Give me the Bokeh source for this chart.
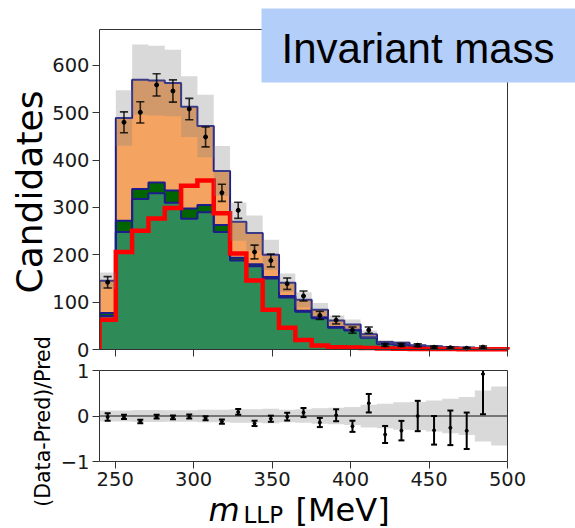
import numpy as np
from bokeh.plotting import figure
from bokeh.models import FixedTicker, ColumnDataSource, LinearAxis, Range1d
from bokeh.core.properties import value
from bokeh.embed import file_html
from bokeh.resources import INLINE

# ---------------- data ----------------
bin_edges = [240.0, 250.4, 260.8, 271.2, 281.6, 292.0, 302.4, 312.8, 323.2, 333.6,
             344.0, 354.4, 364.8, 375.2, 385.6, 396.0, 406.4, 416.8, 427.2, 437.6,
             448.0, 458.4, 468.8, 479.2, 489.6, 500.0]
seagreen_counts = [71, 248, 318, 330, 310, 276, 290, 248, 188, 176, 150, 110, 80, 66,
                   46, 40, 25, 12, 10, 6.5, 5.5, 4, 3.2, 2, 1.6]
darkgreen_counts = [6, 24, 21, 23, 26, 22, 15, 15, 6, 4, 3, 3, 2, 2, 1.5, 1.5, 1,
                    0.7, 0.5, 0.4, 0.3, 0.3, 0.2, 0.2, 0.1]
orange_counts = [68, 217, 231, 215, 227, 215, 167, 114, 76, 66, 47, 28, 23, 16, 13.5,
                 11.5, 6, 3.3, 3.5, 2.1, 1.2, 0.7, 0.6, 0.4, 0.3]
signal_counts = [63, 206, 251, 277, 299, 346, 357, 288, 203, 146, 84, 46, 20, 8.5, 5,
                 4, 3, 2, 1.5, 1.2, 1.0, 0.8, 0.6, 0.5, 0.4]
data_counts = [142, 480, 501, 559, 546, 508, 449, 331, 294, 206, 188, 139, 113, 72,
               62, 41, 41, 9.5, 9.5, 9, 4.8, 3.7, 2.7, 5, float("nan")]
data_errors = [12, 22, 22.5, 23.5, 23.5, 22.5, 21, 18, 17, 14.5, 13.5, 12, 10.5, 8.5,
               8, 6.5, 6.5, 3, 3, 3, 2.2, 1.9, 1.6, 2.3, float("nan")]
pred_rel_unc = [0.12, 0.12, 0.13, 0.13, 0.125, 0.125, 0.14, 0.14, 0.15, 0.15, 0.16,
                0.14, 0.15, 0.17, 0.18, 0.2, 0.25, 0.27, 0.3, 0.31, 0.34, 0.38, 0.42,
                0.56, 0.65]

x_ticks = [250, 300, 350, 400, 450, 500]
y_ticks_main = [0, 100, 200, 300, 400, 500, 600]
y_ticks_ratio = [-1, 0, 1]
x_min, x_max = 240, 500
y_main_max = 676
r_min, r_max = -1, 1

# ---------------- derived ----------------
edges = np.array(bin_edges)
lo, hi = edges[:-1], edges[1:]
ctr = 0.5 * (lo + hi)
S = np.array(seagreen_counts, float)
D = np.array(darkgreen_counts, float)
O = np.array(orange_counts, float)
c1 = S
c2 = S + D
tot = S + D + O
sig = np.array(signal_counts, float)
N = np.array(data_counts, float)
Ne = np.array(data_errors, float)
rel = np.array(pred_rel_unc, float)
ratio = N / tot - 1.0
ratio_err = Ne / tot


def ext(v):   # per-bin values -> per-edge values for step areas ("after" mode)
    v = np.asarray(v, float)
    return np.append(v, v[-1])


def step_xy(vals):
    xs, ys = [edges[0]], [0.0]
    for a, b, v in zip(lo, hi, vals):
        xs += [a, b]
        ys += [v, v]
    xs.append(edges[-1])
    ys.append(0.0)
    return xs, ys


FONT = "DejaVu Sans"
SPINE = "#333333"

# ---------------- page geometry (pixels) ----------------
W, H = 575, 528
FR_L, FR_R = 99, 507          # plot boxes left/right on the page
MAIN_T, MAIN_B = 29, 349      # main panel top/bottom
RAT_T, RAT_B = 370, 461       # ratio panel top/bottom
px_per_x = (FR_R - FR_L) / (x_max - x_min)
px_per_y = (MAIN_B - MAIN_T) / y_main_max
px_per_r = (RAT_B - RAT_T) / (r_max - r_min)


def xd(px):   # page x -> data x
    return x_min + (px - FR_L) / px_per_x


def yd(py):   # page y -> main-panel data y
    return (MAIN_B - py) / px_per_y


def rd(py):   # page y -> ratio-panel data y
    return r_min + (RAT_B - py) / px_per_r


p = figure(width=W, height=H, x_range=(xd(0), xd(W)), y_range=(yd(H), yd(0)),
           x_axis_type=None, y_axis_type=None, min_border=0,
           output_backend="svg", toolbar_location=None,
           background_fill_color="white", border_fill_color="white",
           outline_line_color=None)
p.extra_y_ranges = {"ratio": Range1d(rd(H), rd(0))}


def style_axis(ax):
    ax.axis_line_color = SPINE
    ax.major_tick_line_color = SPINE
    ax.major_tick_out = 7
    ax.major_tick_in = 0
    ax.minor_tick_out = 0
    ax.minor_tick_in = 0
    ax.major_label_text_font = FONT
    ax.major_label_text_font_size = "19.5px"
    ax.major_label_text_color = "#1a1a1a"
    ax.major_label_standoff = 3


# axes (all pinned to the panel edges)
ax_my = LinearAxis(ticker=FixedTicker(ticks=y_ticks_main), bounds=(0, y_main_max),
                   fixed_location=x_min)
ax_mx = LinearAxis(ticker=FixedTicker(ticks=x_ticks), bounds=(x_min, x_max),
                   fixed_location=0)
ax_ry = LinearAxis(ticker=FixedTicker(ticks=y_ticks_ratio), bounds=(r_min, r_max),
                   fixed_location=x_min, y_range_name="ratio")
ax_rx = LinearAxis(ticker=FixedTicker(ticks=x_ticks), bounds=(x_min, x_max),
                   fixed_location=r_min, y_range_name="ratio")
for ax in (ax_my, ax_mx, ax_ry, ax_rx):
    style_axis(ax)
ax_mx.major_label_overrides = {t: "" for t in x_ticks}
ax_mx.major_label_text_font_size = "1px"
ax_ry.major_label_overrides = {-1: "\u22121", 0: "0", 1: "1"}
p.add_layout(ax_my, "left")
p.add_layout(ax_ry, "left")
p.add_layout(ax_mx, "below")
p.add_layout(ax_rx, "below")

# ---------------- main panel ----------------
zeros = np.zeros_like(S)
p.varea_step(x=edges, y1=ext(zeros), y2=ext(c1), step_mode="after",
             fill_color="#2e8b57")
p.varea_step(x=edges, y1=ext(c1), y2=ext(c2), step_mode="after",
             fill_color="#006400")
p.varea_step(x=edges, y1=ext(c2), y2=ext(tot), step_mode="after",
             fill_color="#f4a460")
for lev in (c1, c2, tot):
    xs, ys = step_xy(lev)
    p.line(xs, ys, line_color="#1c1c8a", line_width=2)
xs, ys = step_xy(sig)
p.line(xs, ys, line_color="#ff0000", line_width=4.5, line_join="miter")
p.varea_step(x=edges, y1=ext(tot * (1 - rel)), y2=ext(tot * (1 + rel)),
             step_mode="after", fill_color="grey", fill_alpha=0.3)
# clip the step outlines at the panel's left edge, as the panel boundary does
p.quad(left=[xd(FR_L - 6)], right=[x_min], bottom=[yd(MAIN_B + 4)], top=[y_main_max],
       fill_color="white", line_color=None)

src = ColumnDataSource(dict(x=ctr, y=N, lo=N - Ne, hi=N + Ne,
                            cl=ctr - 2.6, cr=ctr + 2.6))
for a, b, c, d in (("x", "lo", "x", "hi"), ("cl", "lo", "cr", "lo"), ("cl", "hi", "cr", "hi")):
    p.segment(x0=a, y0=b, x1=c, y1=d, source=src, line_color="black",
              line_alpha=0.8, line_width=1.6)
p.scatter(x="x", y="y", source=src, size=4, color="black")

p.line([x_min, x_max], [y_main_max, y_main_max], line_color=SPINE, line_width=1)
p.line([x_max, x_max], [0, y_main_max], line_color=SPINE, line_width=1)

# ---------------- ratio panel ----------------
r_hi = ratio + ratio_err
r_lo = ratio - ratio_err
cap_hi = np.where(r_hi > r_max, np.nan, r_hi)      # cap hidden beyond the panel
r_hi_clip = np.minimum(r_hi, r_max)
p.varea_step(x=edges, y1=ext(-rel), y2=ext(rel), step_mode="after",
             fill_color="grey", fill_alpha=0.3, y_range_name="ratio")
p.line([x_min, x_max], [0, 0], line_color="#555555", line_width=1.5,
       y_range_name="ratio")
rsrc = ColumnDataSource(dict(x=ctr, y=ratio, lo=r_lo, hi=r_hi_clip, caph=cap_hi,
                             cl=ctr - 1.9, cr=ctr + 1.9))
for a, b, c, d in (("x", "lo", "x", "hi"), ("cl", "lo", "cr", "lo"), ("cl", "caph", "cr", "caph")):
    p.segment(x0=a, y0=b, x1=c, y1=d, source=rsrc, line_color="black", line_width=2,
              y_range_name="ratio")
p.scatter(x="x", y="y", source=rsrc, size=3, color="black", y_range_name="ratio")
p.line([x_min, x_max], [r_max, r_max], line_color=SPINE, line_width=1,
       y_range_name="ratio")
p.line([x_max, x_max], [r_min, r_max], line_color=SPINE, line_width=1,
       y_range_name="ratio")

# ---------------- title box ----------------
p.quad(left=[xd(261)], right=[xd(W + 5)], bottom=[yd(82)], top=[yd(8)],
       fill_color="#b4cefa", line_color=None)
p.text(x=[xd(281)], y=[yd(48)], text=["Invariant mass"],
       text_font=value("Liberation Sans"), text_font_size="42px",
       text_color="black", text_align="left", text_baseline="middle")

# ---------------- axis titles ----------------
p.text(x=[xd(28.5)], y=[yd(191.5)], text=["Candidates"], angle=np.pi / 2,
       text_font=value(FONT), text_font_size="36px", text_align="center",
       text_baseline="middle", text_color="black")
p.text(x=[xd(42.5)], y=[yd(421)], text=["(Data-Pred)/Pred"], angle=np.pi / 2,
       text_font=value(FONT), text_font_size="20.5px", text_align="center",
       text_baseline="middle", text_color="black")
p.text(x=[xd(208)], y=[yd(509)], text=["m"], text_font=value(FONT),
       text_font_size="32px", text_font_style="italic", text_baseline="middle",
       text_color="black")
p.text(x=[xd(243)], y=[yd(514.3)], text=["LLP"], text_font=value(FONT),
       text_font_size="23px", text_baseline="middle", text_color="black")
p.text(x=[xd(295)], y=[yd(509)], text=["[MeV]"], text_font=value(FONT),
       text_font_size="32px", text_baseline="middle", text_color="black")

open("out.html", "w").write(file_html(p, INLINE))
